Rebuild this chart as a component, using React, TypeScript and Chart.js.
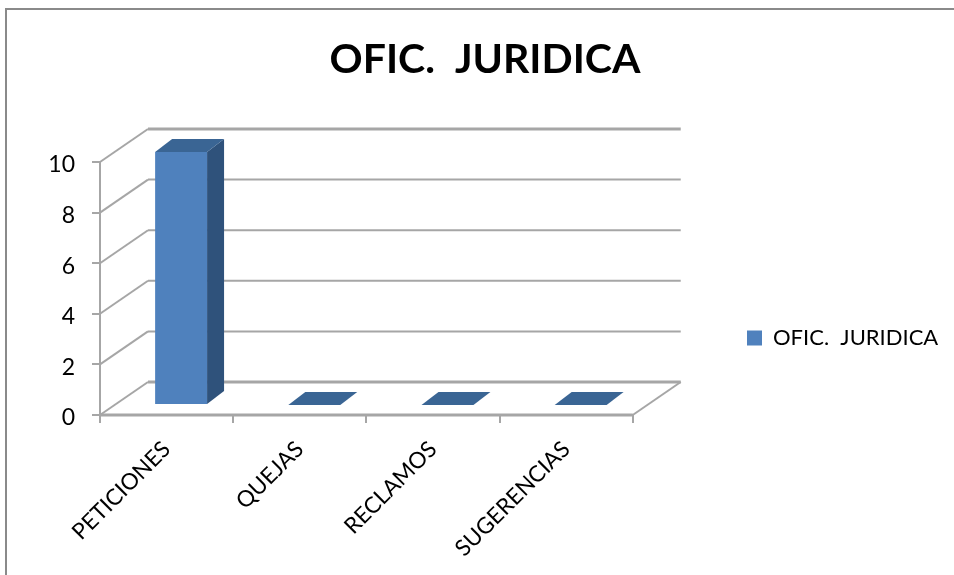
import React, { useEffect, useRef } from "react";
import { Chart, registerables } from "chart.js";

Chart.register(...registerables);

const chartTitle = "OFIC.  JURIDICA";
const categories = ["PETICIONES", "QUEJAS", "RECLAMOS", "SUGERENCIAS"];
const seriesValues = [10, 0, 0, 0];
const yMax = 10;
const yStep = 2;

const FONT = "Lato, Carlito, 'Open Sans', sans-serif";
const GRID = "#a6a6a6";
const FRONT = "#4f81bd";
const TOP = "#3a6594";
const SIDE = "#2f527b";
const WALL_DX = 48;
const WALL_DY = -33;
const BAR_DX = 14.5;
const BAR_DY = -10;
const DEPTH_DX = 17;
const DEPTH_DY = -13;

const line = (ctx: CanvasRenderingContext2D, x1: number, y1: number, x2: number, y2: number, w: number) => {
  ctx.lineWidth = w;
  ctx.beginPath();
  ctx.moveTo(x1, y1);
  ctx.lineTo(x2, y2);
  ctx.stroke();
};

const poly = (ctx: CanvasRenderingContext2D, pts: number[][], fill: string) => {
  ctx.fillStyle = fill;
  ctx.beginPath();
  pts.forEach(([x, y], i) => (i ? ctx.lineTo(x, y) : ctx.moveTo(x, y)));
  ctx.closePath();
  ctx.fill();
};

const threeD = {
  id: "threeD",
  afterLayout(chart: any) {
    const legend = chart.legend;
    const h = legend.height;
    const w = legend.width;
    legend.left = 739;
    legend.right = 739 + w;
    legend.top = 338 - h / 2;
    legend.bottom = 338 + h / 2;
    chart.titleBlock.left += 64;
    chart.titleBlock.right += 64;
  },
  beforeDraw(chart: any) {
    const { ctx, width, height } = chart;
    ctx.save();
    ctx.fillStyle = "#ffffff";
    ctx.fillRect(0, 0, width, height);
    ctx.strokeStyle = "#8a8a8a";
    ctx.lineWidth = 2;
    ctx.beginPath();
    ctx.moveTo(6, height);
    ctx.lineTo(6, 9);
    ctx.lineTo(width, 9);
    ctx.stroke();
    ctx.restore();
    const items = chart.scales.y.getLabelItems(chart.chartArea);
    items.forEach((item: any) => {
      if (!item.shifted) {
        item.options.translation[1] += 3;
        item.shifted = true;
      }
    });
  },
  beforeDatasetsDraw(chart: any) {
    const { ctx, scales } = chart;
    const { x, y } = scales;
    const left = x.left;
    const right = x.right;
    const bottom = y.getPixelForValue(0);
    ctx.save();
    ctx.strokeStyle = GRID;
    y.ticks.forEach((t: any) => {
      const py = y.getPixelForValue(t.value);
      const edge = t.value === 0 || t.value === yMax;
      line(ctx, left, py, left + WALL_DX, py + WALL_DY, 2);
      line(ctx, left + WALL_DX, py + WALL_DY, right + WALL_DX, py + WALL_DY, edge ? 3 : 2);
    });
    line(ctx, right, bottom, right + WALL_DX, bottom + WALL_DY, 2);
    line(ctx, left, bottom, right, bottom, 3);
    const meta = chart.getDatasetMeta(0);
    meta.data.forEach((bar: any) => {
      const { x: cx, y: top, base, width } = bar.getProps(["x", "y", "base", "width"], true);
      const l = cx - width / 2 + BAR_DX;
      const r = cx + width / 2 + BAR_DX;
      const t = top + BAR_DY;
      const b = base + BAR_DY;
      poly(ctx, [[r, t], [r + DEPTH_DX, t + DEPTH_DY], [r + DEPTH_DX, b + DEPTH_DY], [r, b]], SIDE);
      poly(ctx, [[l, t], [l + DEPTH_DX, t + DEPTH_DY], [r + DEPTH_DX, t + DEPTH_DY], [r, t]], TOP);
    });
    ctx.translate(BAR_DX, BAR_DY);
  },
  afterDatasetsDraw(chart: any) {
    chart.ctx.restore();
  },
};

export default function App() {
  const ref = useRef<HTMLCanvasElement>(null);
  useEffect(() => {
    if (!ref.current) return;
    const chart = new Chart(ref.current, {
      type: "bar",
      data: {
        labels: categories,
        datasets: [
          {
            label: chartTitle,
            data: seriesValues,
            backgroundColor: FRONT,
            borderWidth: 0,
            barPercentage: 0.39,
            categoryPercentage: 1,
            clip: false,
          } as any,
        ],
      },
      plugins: [threeD],
      options: {
        responsive: false,
        animation: false,
        devicePixelRatio: 1,
        layout: { padding: { top: 0, left: 0, right: 112, bottom: 0 } },
        plugins: {
          tooltip: { enabled: false },
          title: {
            display: true,
            text: chartTitle,
            color: "#000000",
            font: { family: FONT, size: 41, weight: "bold" },
            padding: { top: 35.4, bottom: 77.4 },
          },
          legend: {
            display: true,
            position: "right",
            labels: {
              boxWidth: 15,
              boxHeight: 15,
              color: "#000000",
              padding: 8,
              font: { family: FONT, size: 22 },
            },
          },
        },
        scales: {
          x: {
            grid: { offset: true, drawOnChartArea: false, drawTicks: true, tickLength: 8, color: GRID, lineWidth: 2 },
            border: { display: true, color: GRID, width: 2 },
            ticks: {
              color: "#000000",
              font: { family: FONT, size: 22.5 },
              minRotation: 45,
              maxRotation: 45,
              autoSkip: false,
              padding: 13,
            },
            afterFit: (s: any) => {
              s.height = 160;
            },
          },
          y: {
            min: 0,
            max: yMax,
            grid: { drawOnChartArea: false, drawTicks: true, tickLength: 8, color: GRID, lineWidth: 2 },
            border: { display: true, color: GRID, width: 2 },
            ticks: {
              stepSize: yStep,
              color: "#000000",
              font: { family: FONT, size: 23 },
              padding: 17,
            },
            afterFit: (s: any) => {
              s.width = 100;
            },
          },
        },
      } as any,
    });
    return () => chart.destroy();
  }, []);
  return (
    <div style={{ position: "fixed", left: 0, top: 0, width: 954, height: 575, overflow: "hidden" }}>
      <canvas ref={ref} width={954} height={575} style={{ display: "block", filter: "blur(0.4px)" }} />
    </div>
  );
}
